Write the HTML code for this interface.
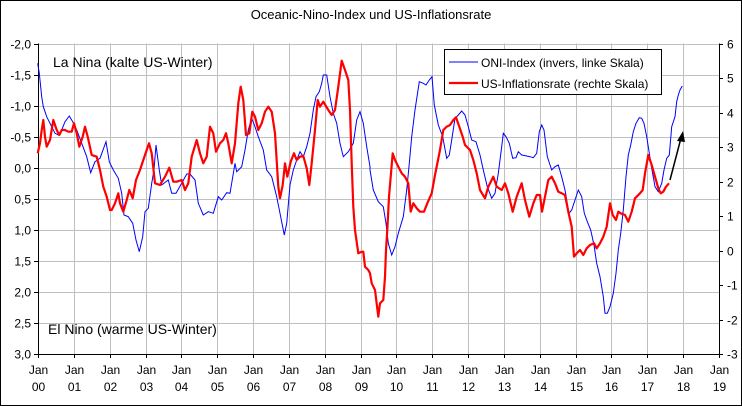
<!DOCTYPE html>
<html><head><meta charset="utf-8"><style>
body{margin:0;background:#fff}
svg{display:block;font-family:"Liberation Sans",sans-serif}
</style></head><body>
<svg id="s" width="742" height="406" xmlns="http://www.w3.org/2000/svg">
<rect x="0.5" y="0.5" width="741" height="405" fill="#fff" stroke="#000"/>
<text x="371" y="19" font-size="13" text-anchor="middle">Oceanic-Nino-Index und US-Inflationsrate</text>
<g id="grid" stroke="#c0c0c0" stroke-width="1"></g>
<g id="axes" stroke="#000" stroke-width="1"></g>
<g id="lbl" font-size="12"></g>
<text x="53" y="67" font-size="14">La Nina (kalte US-Winter)</text>
<text x="48" y="334" font-size="14">El Nino (warme US-Winter)</text>
<polyline id="blue" fill="none" stroke="#0000ff" stroke-width="1"/>
<polyline id="red" fill="none" stroke="#ff0000" stroke-width="2.2" stroke-linejoin="round"/>
<line x1="670" y1="180" x2="681" y2="138" stroke="#000" stroke-width="1.5"/>
<polygon points="683,131 677,141 685,142" fill="#000"/>
<rect x="444.5" y="49.5" width="217" height="45" fill="#fff" stroke="#000"/>
<line x1="449" y1="62" x2="478" y2="62" stroke="#0000ff"/>
<line x1="449" y1="83" x2="478" y2="83" stroke="#ff0000" stroke-width="2.2"/>
<text x="481" y="67" font-size="12">ONI-Index (invers, linke Skala)</text>
<text x="481" y="88" font-size="12">US-Inflationsrate (rechte Skala)</text>
</svg>
<script>
var NS="http://www.w3.org/2000/svg";
function el(p,t,a,txt){var e=document.createElementNS(NS,t);for(var k in a)e.setAttribute(k,a[k]);if(txt!=null)e.textContent=txt;document.getElementById(p).appendChild(e);}
var L=38,R=719,T=43.5,B=354,yw=(R-L)/19;
for(var i=1;i<=19;i++){var x=Math.round(L+i*yw)+0.5;el("grid","line",{x1:x,y1:T,x2:x,y2:B});}
for(var j=0;j<=10;j++){var y=Math.round(T+j*(B-T)/10)+0.5;if(j<10)el("grid","line",{x1:L,y1:y,x2:R,y2:y});
el("axes","line",{x1:L-4,y1:y,x2:L,y2:y});
var v=(-2+j*0.5).toFixed(1).replace(".",",");el("lbl","text",{x:31,y:y+4,"text-anchor":"end"},v);}
for(var j=0;j<=9;j++){var y=Math.round(T+j*(B-T)/9)+0.5;el("axes","line",{x1:R,y1:y,x2:R+4,y2:y});el("lbl","text",{x:727,y:y+4},String(6-j));}
el("axes","line",{x1:L+0.5,y1:T,x2:L+0.5,y2:B});el("axes","line",{x1:R+0.5,y1:T,x2:R+0.5,y2:B});
el("axes","line",{x1:L,y1:B+0.5,x2:R,y2:B+0.5});
for(var i=0;i<=19;i++){var x=Math.round(L+i*yw)+0.5;el("axes","line",{x1:x,y1:B,x2:x,y2:B+4});
el("lbl","text",{x:x,y:374,"text-anchor":"middle"},"Jan");el("lbl","text",{x:x,y:391,"text-anchor":"middle"},("0"+i).slice(-2));}
function m1(a){var r=[];for(var i=0;i<a.length;i+=2)r.push((a[i]/3).toFixed(1)+","+(30+a[i+1]/3).toFixed(1));return r;}
function m2(a){var r=[];for(var i=0;i<a.length;i+=2)r.push((370+a[i]/3).toFixed(1)+","+(30+a[i+1]/3).toFixed(1));return r;}
var b1=[113,100,118,130,125,200,130,230,140,260,150,280,165,310,175,315,185,300,195,275,208,258,218,275,230,300,245,340,260,380,272,428,285,395,300,385,318,335,328,395,340,420,355,445,365,490,372,555,385,560,398,580,408,630,418,665,428,620,435,545,445,535,455,460,462,420,468,345,478,420,485,465,505,450,515,490,528,490,545,460,560,432,570,432,585,450,595,520,610,555,625,545,640,550,655,500,665,510,680,488,690,490,705,400,710,425,725,410,735,360,745,300,755,265,765,290,775,320,790,360,800,420,815,440,830,500,840,550,853,615,860,580,870,465,880,420,890,390,900,365,910,380,920,350,930,310,940,240,948,200,958,185,965,160,970,135,980,135,990,200,1000,250,1010,280,1020,340,1030,380,1045,365,1060,340,1070,270,1080,245,1090,280,1100,350,1110,410];
var b2=[0,420,10,480,25,515,40,530,48,580,55,640,65,675,75,650,85,610,100,560,110,480,118,400,125,320,135,240,148,155,160,160,168,165,178,150,186,140,193,225,205,285,218,320,230,385,238,375,245,330,255,265,265,255,275,243,285,255,295,290,305,330,318,335,330,375,340,420,352,470,365,505,375,490,385,430,395,350,400,310,408,320,418,340,428,385,438,383,445,365,455,375,470,378,480,380,490,383,500,370,508,305,515,285,522,300,532,380,545,420,555,410,565,405,575,440,585,480,597,550,605,540,615,510,625,480,635,500,643,550,652,575,662,600,672,645,680,700,690,740,700,800,705,850,712,850,720,830,730,790,738,730,745,660,752,610,760,540,768,440,775,375,782,345,790,305,798,280,808,263,815,265,822,280,830,320,838,370,845,415,855,470,865,485,875,460,882,420,890,385,898,375,905,290,915,260,920,215,925,195,930,180,937,168];
var r1=[113,370,120,340,125,300,130,270,135,320,140,350,150,330,160,270,170,300,178,315,185,300,195,300,205,305,215,305,222,280,230,310,238,350,248,320,255,290,263,320,275,375,290,380,300,420,310,470,320,500,330,540,335,540,345,520,355,490,360,520,370,545,380,510,388,480,398,505,408,450,420,420,430,390,440,360,447,340,455,370,465,460,480,465,495,440,508,413,520,455,530,455,545,450,555,480,565,460,575,380,590,330,600,370,610,400,620,380,630,290,640,310,648,365,660,340,670,330,678,310,685,340,695,400,705,340,715,220,722,170,730,210,738,315,748,310,757,245,765,260,775,300,785,280,795,245,805,230,815,245,825,310,835,470,840,505,848,465,855,400,862,440,872,395,882,370,890,390,900,380,910,378,920,415,928,465,935,400,945,300,953,210,960,230,970,215,985,240,995,255,1005,240,1015,170,1025,92,1035,120,1045,150,1050,240,1055,400,1060,530,1065,600,1075,670,1085,665,1090,665,1095,710,1105,720];
var r2=[0,730,5,760,15,780,25,860,30,820,40,810,45,740,48,660,52,600,57,500,63,430,68,370,75,390,85,410,95,430,105,440,115,460,122,545,130,520,140,535,150,545,162,545,172,520,185,490,195,435,210,360,220,300,230,290,240,285,250,270,258,262,268,290,278,320,285,345,300,360,310,390,320,430,330,480,345,505,355,470,370,440,380,470,395,480,405,460,415,490,428,545,440,500,455,460,465,510,478,560,490,520,500,495,510,495,516,545,525,500,535,450,545,440,555,460,565,485,575,490,585,495,595,545,605,590,612,680,620,670,630,660,640,675,650,655,660,645,672,640,680,655,690,640,700,620,710,590,720,520,728,555,738,570,745,545,752,550,765,555,775,575,785,545,795,505,810,490,818,480,825,430,835,375,845,405,855,440,865,475,872,490,880,485,888,470,897,460];
document.getElementById("blue").setAttribute("points",m1(b1).concat(m2(b2)).join(" "));
document.getElementById("red").setAttribute("points",m1(r1).concat(m2(r2)).join(" "));
</script>
</body></html>
